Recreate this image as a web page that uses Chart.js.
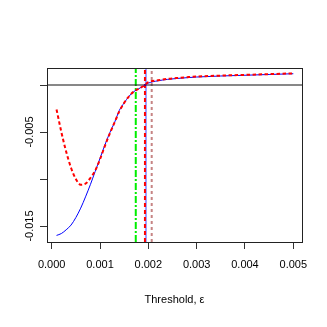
<!DOCTYPE html>
<html>
<head>
<meta charset="utf-8">
<script src="https://cdn.jsdelivr.net/npm/chart.js@4.4.1/dist/chart.umd.min.js"></script>
<style>
  body { margin: 0; background: #fff; }
</style>
</head>
<body>
<canvas id="chart" width="327" height="327"></canvas>
<script>
// threshold grid (epsilon)
const thresholds = [0.0001, 0.0002, 0.0003, 0.0004, 0.0005, 0.0006, 0.0007, 0.0008, 0.0009, 0.0010,
                    0.0011, 0.0012, 0.0013, 0.0014, 0.0015, 0.0016, 0.0017, 0.0018, 0.0019, 0.0020,
                    0.0022, 0.0024, 0.0026, 0.0028, 0.0030, 0.0035, 0.0040, 0.0045, 0.0050];
// solid blue curve
const blueCurve = [-0.0160, -0.0158, -0.0154, -0.0149, -0.0141, -0.0131, -0.0119, -0.0106, -0.0092, -0.0078,
                   -0.0064, -0.0051, -0.0040, -0.0027, -0.0019, -0.0012, -0.0007, -0.0004, -0.0001, 0.0002,
                   0.00045, 0.0006, 0.0007, 0.00078, 0.00085, 0.00096, 0.00104, 0.00112, 0.0012];
// dashed red curve
const redCurve = [-0.0026, -0.0050, -0.0071, -0.0088, -0.0100, -0.0106, -0.0105, -0.0099, -0.0091, -0.0079,
                  -0.0065, -0.0052, -0.0040, -0.0028, -0.0019, -0.0012, -0.0007, -0.0004, -0.0001, 0.0003,
                  0.0005, 0.00065, 0.00075, 0.00083, 0.0009, 0.001, 0.00108, 0.00116, 0.00124];
// vertical reference lines: green dot-dash, red dashed, blue solid, brown dotted
const cutGreen = 0.00174;
const cutRed = 0.00193;
const cutBlue = 0.00195;
const cutBrown = 0.00207;
const xTicks = [0, 0.001, 0.002, 0.003, 0.004, 0.005];
const yTicks = [-0.015, -0.010, -0.005, 0];
const yLabelled = [-0.015, -0.005];

const X_MIN = -0.000097, X_MAX = 0.00518;
const Y_MIN = -0.0167, Y_MAX = 0.00181;
const FONT = '"Liberation Sans Narrow", "Liberation Sans", Arial, sans-serif';

function pts(xs, ys) {
    return xs.map((x, i) => ({ x: x, y: ys[i] }));
}
function vline(x) {
    return [{ x: x, y: Y_MIN }, { x: x, y: Y_MAX }];
}

// box round the plot and the rotated y labels (R style)
const rFrame = {
    id: "rFrame",
    afterDraw(chart) {
        const ctx = chart.ctx;
        const a = chart.chartArea;
        const y = chart.scales.y;
        ctx.save();
        ctx.strokeStyle = "#222";
        ctx.lineWidth = 1;
        ctx.strokeRect(Math.round(a.left) + 0.5, Math.round(a.top) + 0.5,
                       Math.round(a.right - a.left), Math.round(a.bottom - a.top));
        ctx.fillStyle = "#000";
        ctx.font = "11px " + FONT;
        ctx.textAlign = "center";
        ctx.textBaseline = "middle";
        for (const v of yLabelled) {
            ctx.save();
            ctx.translate(30, y.getPixelForValue(v));
            ctx.rotate(-Math.PI / 2);
            ctx.fillText(v.toFixed(3), 0, 0);
            ctx.restore();
        }
        ctx.restore();
    }
};

new Chart(document.getElementById("chart"), {
    type: "scatter",
    plugins: [rFrame],
    data: {
        datasets: [
            {
                data: pts(thresholds, blueCurve),
                showLine: true, borderColor: "#0000ff", borderWidth: 1,
                pointRadius: 0, cubicInterpolationMode: "monotone", order: 1
            },
            {
                data: pts(thresholds, redCurve),
                showLine: true, borderColor: "#ff0000", borderWidth: 2, borderDash: [3.5, 2.5],
                pointRadius: 0, cubicInterpolationMode: "monotone", order: 0
            },
            {
                data: [{ x: X_MIN, y: 0 }, { x: X_MAX, y: 0 }],
                showLine: true, borderColor: "#111", borderWidth: 1, pointRadius: 0, order: 2
            },
            {
                data: vline(cutGreen),
                showLine: true, borderColor: "#00ee00", borderWidth: 2, borderDash: [7, 2, 2, 2],
                pointRadius: 0, order: 3
            },
            {
                data: vline(cutRed),
                showLine: true, borderColor: "#ff0000", borderWidth: 2, borderDash: [4, 3],
                pointRadius: 0, order: 3
            },
            {
                data: vline(cutBlue),
                showLine: true, borderColor: "rgba(0,0,255,0.4)", borderWidth: 2,
                pointRadius: 0, order: 4
            },
            {
                data: vline(cutBrown),
                showLine: true, borderColor: "rgba(160,50,50,0.6)", borderWidth: 2, borderDash: [3, 3],
                pointRadius: 0, order: 4
            }
        ]
    },
    options: {
        responsive: false,
        animation: false,
        events: [],
        layout: { padding: { top: 68, right: 25, left: 0, bottom: 16 } },
        plugins: {
            legend: { display: false },
            tooltip: { enabled: false }
        },
        scales: {
            x: {
                type: "linear",
                min: X_MIN, max: X_MAX,
                afterBuildTicks: (s) => { s.ticks = xTicks.map(v => ({ value: v })); },
                afterFit: (s) => { s.height = 69; },
                border: { display: false },
                grid: { drawOnChartArea: false, drawTicks: true, tickLength: 7, color: "#333" },
                ticks: {
                    padding: 9, color: "#000", maxRotation: 0, autoSkip: false,
                    font: { family: FONT, size: 11 },
                    callback: (v) => Number(v).toFixed(3)
                },
                title: {
                    display: true, text: "Threshold, \u03b5", color: "#000",
                    font: { family: FONT, size: 11 }, padding: { top: 14 }
                }
            },
            y: {
                type: "linear",
                min: Y_MIN, max: Y_MAX,
                afterBuildTicks: (s) => { s.ticks = yTicks.map(v => ({ value: v })); },
                afterFit: (s) => { s.width = 47; },
                border: { display: false },
                grid: { drawOnChartArea: false, drawTicks: true, tickLength: 7, color: "#333" },
                ticks: { display: false }
            }
        }
    }
});
</script>
</body>
</html>
